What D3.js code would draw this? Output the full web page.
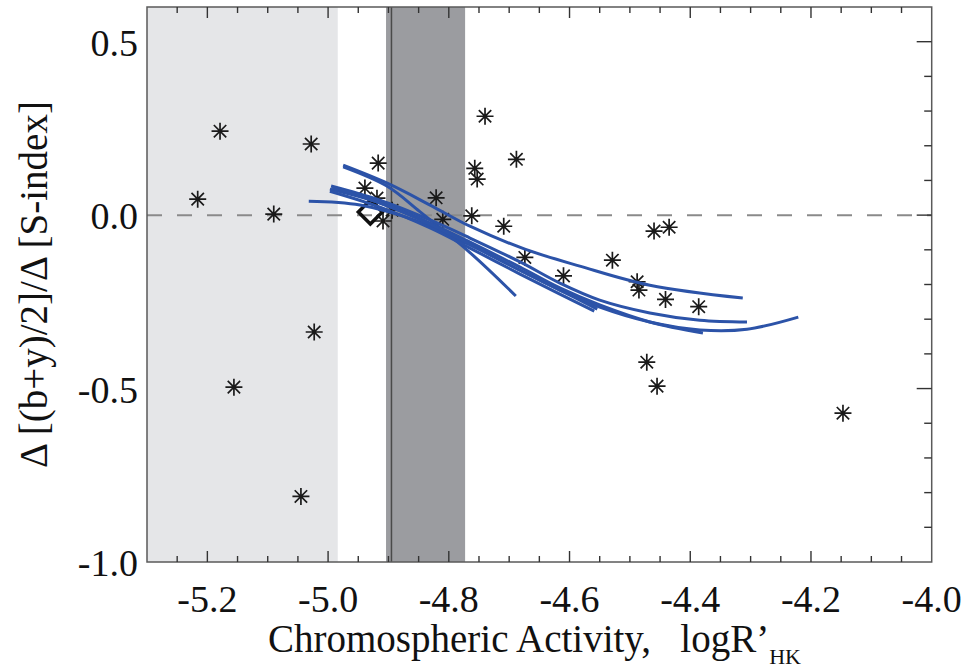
<!DOCTYPE html>
<html><head><meta charset="utf-8">
<script src="https://cdn.jsdelivr.net/npm/d3@7"></script>
<style>
html,body{margin:0;padding:0;background:#fff;}
</style></head>
<body>
<svg id="chart" width="966" height="669"></svg>
<script>
// ---- data ----
const xDomain = [-5.3, -4.0];
const yDomain = [-1.0, 0.6];
const xTickValues = [-5.2, -5.0, -4.8, -4.6, -4.4, -4.2, -4.0];
const xTickLabels = ["-5.2", "-5.0", "-4.8", "-4.6", "-4.4", "-4.2", "-4.0"];
const yTickValues = [0.5, 0.0, -0.5, -1.0];
const yTickLabels = ["0.5", "0.0", "-0.5", "-1.0"];
const lightBand = [-5.3, -4.984];
const darkBand = [-4.904, -4.773];
const sunLine = -4.895;
const sunPoint = [-4.930, 0.009];

const starX = [-5.216, -5.179, -5.156, -5.090, -5.028, -5.023, -5.045, -4.917, -4.939, -4.919,
               -4.909, -4.894, -4.821, -4.810, -4.762, -4.757, -4.753, -4.740, -4.688, -4.709,
               -4.674, -4.610, -4.529, -4.488, -4.485, -4.460, -4.435, -4.441, -4.386, -4.472,
               -4.455, -4.147];
const starY = [0.046, 0.242, -0.496, 0.003, 0.205, -0.337, -0.811, 0.150, 0.078, 0.049,
               -0.017, 0.014, 0.050, -0.012, -0.002, 0.135, 0.104, 0.285, 0.161, -0.032,
               -0.122, -0.175, -0.130, -0.192, -0.216, -0.046, -0.035, -0.243, -0.264, -0.424,
               -0.493, -0.571];

const curveU = [[-4.975,0.144],[-4.902,0.092],[-4.831,0.029],[-4.765,-0.032],[-4.674,-0.098],[-4.583,-0.147],[-4.467,-0.202],[-4.313,-0.239]];
const curveC = [[-4.975,0.139],[-4.902,0.083],[-4.848,0.010],[-4.765,-0.108],[-4.689,-0.233]];
const curveM1 = [[-4.995,0.084],[-4.914,0.043],[-4.831,-0.014],[-4.765,-0.066],[-4.682,-0.135],[-4.616,-0.196],[-4.550,-0.245],[-4.467,-0.282],[-4.384,-0.303],[-4.306,-0.308]];
const curveM2 = [[-4.997,0.075],[-4.914,0.035],[-4.831,-0.023],[-4.765,-0.078],[-4.682,-0.150],[-4.616,-0.210],[-4.550,-0.259],[-4.467,-0.308],[-4.379,-0.340]];
const curveL = [[-5.032,0.040],[-4.947,0.029],[-4.848,-0.020],[-4.765,-0.086],[-4.682,-0.159],[-4.616,-0.216],[-4.550,-0.265],[-4.467,-0.308],[-4.384,-0.331],[-4.306,-0.329],[-4.221,-0.294]];
const curveS1 = [[-4.994,0.081],[-4.914,0.035],[-4.831,-0.026],[-4.765,-0.084],[-4.682,-0.159],[-4.616,-0.216],[-4.554,-0.271]];
const curveS2 = [[-4.997,0.069],[-4.914,0.023],[-4.831,-0.037],[-4.765,-0.095],[-4.682,-0.170],[-4.616,-0.228],[-4.559,-0.277]];
const curves = [curveU, curveC, curveM1, curveM2, curveL, curveS1, curveS2];

// ---- layout ----
const L = 147, R = 931.7, T = 7, B = 562;
const FONT = '"Liberation Serif"';
const svg = d3.select("#chart");
const x = d3.scaleLinear().domain(xDomain).range([L, R]);
const y = d3.scaleLinear().domain(yDomain).range([B, T]);

// bands
svg.append("rect").attr("x", x(lightBand[0])).attr("y", T)
  .attr("width", x(lightBand[1]) - x(lightBand[0])).attr("height", B - T)
  .attr("fill", "#e5e6e8");
svg.append("rect").attr("x", x(darkBand[0])).attr("y", T)
  .attr("width", x(darkBand[1]) - x(darkBand[0])).attr("height", B - T)
  .attr("fill", "#9b9ca0");
svg.append("line").attr("x1", x(sunLine)).attr("x2", x(sunLine))
  .attr("y1", T).attr("y2", B).attr("stroke", "#4a4a4a").attr("stroke-width", 1.5);

// zero line
svg.append("line").attr("x1", L).attr("x2", R).attr("y1", y(0)).attr("y2", y(0))
  .attr("stroke", "#8a8a8a").attr("stroke-width", 2).attr("stroke-dasharray", "15,15");

// asterisks
const starG = svg.append("g").attr("stroke", "#1a1a1a").attr("stroke-width", 1.7);
starX.forEach((v, i) => {
  const cx = x(v), cy = y(starY[i]);
  const r = 8.5, d = 6.2;
  starG.append("path").attr("d",
    `M${cx - r},${cy}L${cx + r},${cy}M${cx},${cy - r}L${cx},${cy + r}` +
    `M${cx - d},${cy - d}L${cx + d},${cy + d}M${cx - d},${cy + d}L${cx + d},${cy - d}`);
});

// sun diamond
{
  const cx = x(sunPoint[0]), cy = y(sunPoint[1]), s = 12;
  svg.append("path").attr("d", `M${cx},${cy - s}L${cx + s},${cy}L${cx},${cy + s}L${cx - s},${cy}Z`)
    .attr("fill", "none").attr("stroke", "#111").attr("stroke-width", 3.5).attr("stroke-linejoin", "miter");
}

// curves
const line = d3.line().x(d => x(d[0])).y(d => y(d[1])).curve(d3.curveCatmullRom);
svg.append("g").selectAll("path").data(curves).join("path")
  .attr("d", line).attr("fill", "none").attr("stroke", "#2c53a8")
  .attr("stroke-width", 3).attr("stroke-linecap", "butt");

// axes frame
const axisColor = "#5a5a5a";
svg.append("rect").attr("x", L).attr("y", T).attr("width", R - L).attr("height", B - T)
  .attr("fill", "none").attr("stroke", axisColor).attr("stroke-width", 1.5);

const xMinor = d3.range(-5.25, -4.0, 0.05);
const xMajor = xTickValues;
const tg = svg.append("g").attr("stroke", "#333").attr("stroke-width", 1.4);
xMinor.forEach(v => {
  const isMajor = xMajor.some(m => Math.abs(m - v) < 1e-6);
  const len = isMajor ? 11 : 6;
  tg.append("line").attr("x1", x(v)).attr("x2", x(v)).attr("y1", B).attr("y2", B - len);
  tg.append("line").attr("x1", x(v)).attr("x2", x(v)).attr("y1", T).attr("y2", T + len);
});
const yMinor = d3.range(-0.9, 0.6, 0.1);
yMinor.forEach(v => {
  const isMajor = yTickValues.some(m => Math.abs(m - v) < 1e-6);
  const len = isMajor ? 15 : 7.5;
  tg.append("line").attr("x1", R).attr("x2", R - len).attr("y1", y(v)).attr("y2", y(v));
});

// tick labels
const lab = svg.append("g").attr("fill", "#111");
xTickValues.forEach((v, i) => {
  lab.append("text").attr("x", x(v)).attr("y", 612).attr("text-anchor", "middle")
    .style("font-family", FONT).style("font-size", "38px").text(xTickLabels[i]);
});
yTickValues.forEach((v, i) => {
  lab.append("text").attr("x", 138).attr("y", y(v) + 14).attr("text-anchor", "end")
    .style("font-family", FONT).style("font-size", "38px").text(yTickLabels[i]);
});

// axis titles
const xt = svg.append("text").attr("x", 268).attr("y", 652)
  .style("font-family", FONT).style("font-size", "39px").attr("fill", "#111").style("white-space", "pre");
xt.append("tspan").text("Chromospheric Activity,   logR\u2019");
xt.append("tspan").style("font-size", "22px").attr("dy", 12).text("HK");

svg.append("text").attr("transform", `translate(47,${(T + B) / 2}) rotate(-90)`)
  .attr("text-anchor", "middle").style("font-family", FONT).style("font-size", "39px").attr("fill", "#111")
  .style("white-space", "pre")
  .text("\u0394 [(b+y)/2]/\u0394 [S-index]");
</script>
</body></html>
